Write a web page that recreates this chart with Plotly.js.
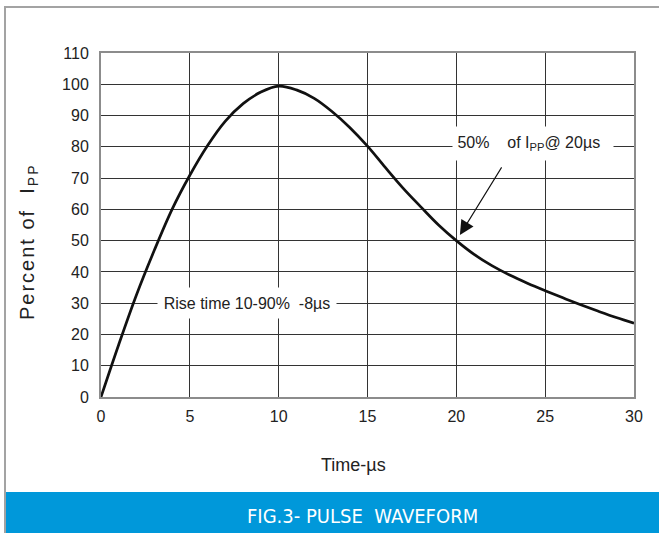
<!DOCTYPE html>
<html>
<head>
<meta charset="utf-8">
<script src="https://cdn.plot.ly/plotly-3.0.1.min.js"></script>
<style>html,body{margin:0;padding:0;background:#fff;}#chart{width:659px;height:533px;}</style>
</head>
<body>
<div id="chart"></div>
<script>
// Pulse waveform: time (µs) vs percent of Ipp
const timeUs = [0, 1, 2, 3, 4, 5, 6, 7, 8, 9, 10, 11, 12, 13, 14, 15, 16, 17, 18, 19, 20, 21, 22, 23, 24, 25, 26, 27, 28, 29, 30];
const percentIpp = [0, 16.8, 32.7, 46.9, 60.0, 70.9, 80.4, 88.2, 93.8, 97.5, 99.4, 98.2, 95.5, 91.3, 86.2, 80.2, 73.4, 66.8, 60.8, 55.0, 50.0, 45.6, 42.0, 39.0, 36.4, 34.0, 31.7, 29.5, 27.4, 25.4, 23.6];
const xTicks = [0, 5, 10, 15, 20, 25, 30];
const yTicks = [0, 10, 20, 30, 40, 50, 60, 70, 80, 90, 100, 110];

const riseLabel = 'Rise time 10-90%&nbsp;&nbsp;-8µs';
const fiftyLabel = '&nbsp;50%&nbsp;&nbsp;&nbsp;&nbsp;of I<sub>PP</sub>@ 20µs';
const yTitle = 'Percent of&nbsp;&nbsp;I<sub>PP</sub>';
const xTitle = 'Time-µs';
const footer = 'FIG.3- PULSE&nbsp;&nbsp;WAVEFORM';

const baseFont = 'Liberation Sans, Arial, sans-serif';
const narrowFont = 'Liberation Sans Narrow, Arial Narrow, DejaVu Sans Condensed, Liberation Sans, sans-serif';

const trace = {
  x: timeUs, y: percentIpp, type: 'scatter', mode: 'lines',
  line: {color: '#111', width: 2.7, shape: 'spline', smoothing: 1},
  hoverinfo: 'skip'
};

// paper conversion for plot area x:101..634, y:53..397
const px = v => (v - 101) / 533;
const py = v => (397 - v) / 344;

const layout = {
  width: 659, height: 533,
  margin: {l: 101, r: 25, t: 53, b: 136, pad: 0},
  paper_bgcolor: '#fff', plot_bgcolor: '#fff',
  showlegend: false,
  font: {family: baseFont, color: '#222', size: 16},
  xaxis: {
    range: [0, 30], tickvals: xTicks, ticktext: xTicks.map(String),
    showgrid: true, gridcolor: '#333', gridwidth: 1,
    zeroline: false, showline: true, linecolor: '#8c8c8c', linewidth: 2, mirror: true,
    ticks: '', ticklabelstandoff: 4,
    tickfont: {family: baseFont, size: 16, color: '#222'}, fixedrange: true
  },
  yaxis: {
    range: [0, 110], tickvals: yTicks, ticktext: yTicks.map(String),
    showgrid: true, gridcolor: '#333', gridwidth: 1,
    zeroline: false, showline: true, linecolor: '#8c8c8c', linewidth: 2, mirror: true,
    ticks: '', ticklabelstandoff: 7,
    tickfont: {family: baseFont, size: 16, color: '#222'}, fixedrange: true
  },
  shapes: [
    {type: 'rect', xref: 'paper', yref: 'paper', x0: px(6), x1: px(660), y0: py(534), y1: py(492),
     fillcolor: '#0098DA', line: {width: 0}, layer: 'above'},
    {type: 'line', xref: 'paper', yref: 'paper', x0: px(5), x1: px(5), y0: py(6), y1: py(534),
     line: {color: '#a3a3a3', width: 2}},
    {type: 'line', xref: 'paper', yref: 'paper', x0: px(4), x1: px(660), y0: py(7), y1: py(7),
     line: {color: '#a3a3a3', width: 2}}
  ],
  annotations: [
    {x: 8.24, y: 30.2, xref: 'x', yref: 'y', text: riseLabel, showarrow: false,
     bgcolor: '#fff', width: 178, height: 30, borderpad: 0,
     font: {family: baseFont, size: 16, color: '#222'}},
    {x: 24.32, y: 81.0, xref: 'x', yref: 'y', text: fiftyLabel, showarrow: false,
     bgcolor: '#fff', width: 160, height: 33, borderpad: 0, align: 'left', xanchor: 'center',
     font: {family: baseFont, size: 16, color: '#222'}},
    {x: 20.2, y: 51.8, xref: 'x', yref: 'y', ax: 22.6, ay: 73.9, axref: 'x', ayref: 'y',
     text: '', showarrow: true, arrowhead: 2, arrowsize: 2.6, arrowwidth: 1.1, arrowcolor: '#111', standoff: 0},
    {x: px(28), y: py(242), xref: 'paper', yref: 'paper', xanchor: 'center', yanchor: 'middle',
     text: yTitle, textangle: -90, showarrow: false,
     font: {family: baseFont, size: 20, color: '#222'}},
    {x: px(353), y: py(465), xref: 'paper', yref: 'paper', xanchor: 'center', yanchor: 'middle',
     text: xTitle, showarrow: false,
     font: {family: baseFont, size: 18, color: '#222'}},
    {x: px(362), y: py(516), xref: 'paper', yref: 'paper', xanchor: 'center', yanchor: 'middle',
     text: footer, showarrow: false,
     font: {family: narrowFont, size: 20, color: '#fff'}}
  ]
};

Plotly.newPlot('chart', [trace], layout, {staticPlot: true, displayModeBar: false}).then(() => {
  const t = document.querySelectorAll('.annotation-text');
  if (t[3]) t[3].style.letterSpacing = '2px';
});
</script>
</body>
</html>
